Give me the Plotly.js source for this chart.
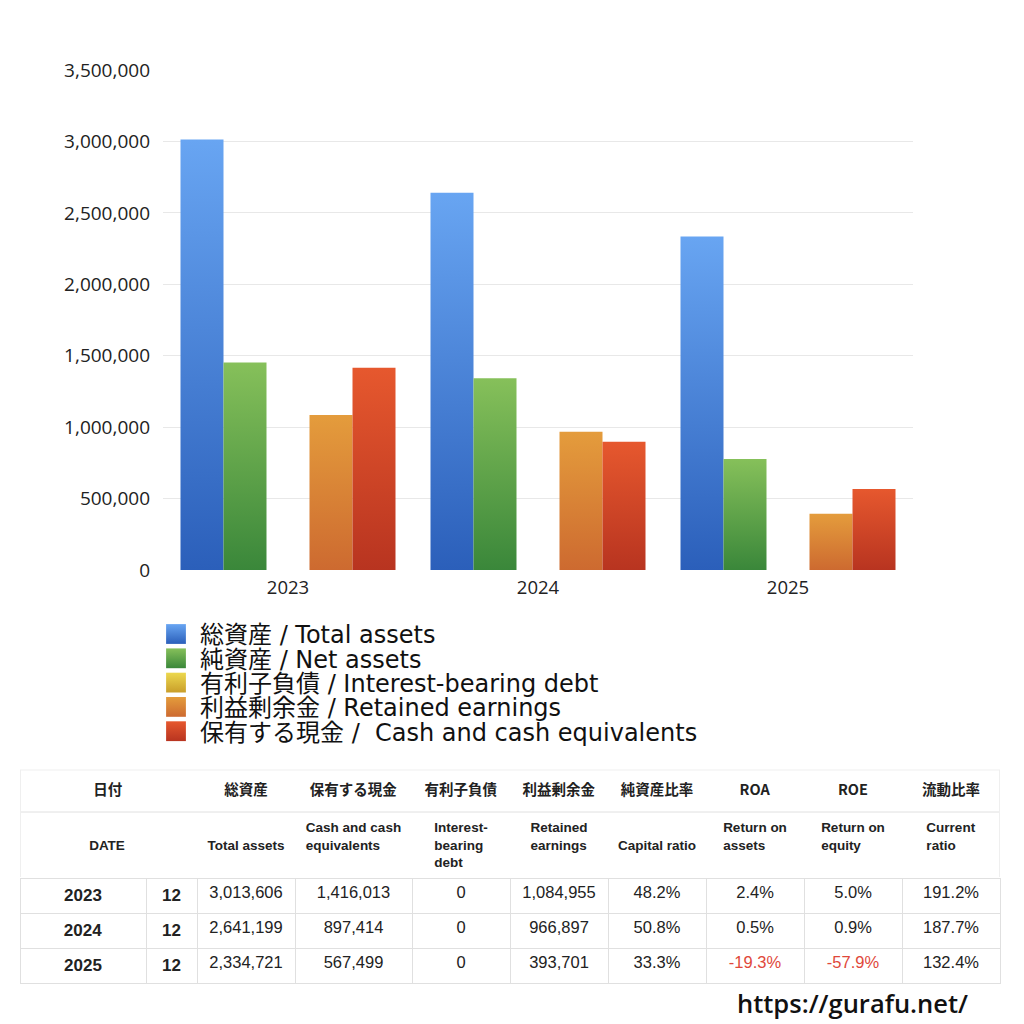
<!DOCTYPE html>
<html>
<head>
<meta charset="utf-8">
<script src="https://cdn.plot.ly/plotly-3.0.1.min.js"></script>
<style>
html,body{margin:0;padding:0;background:#fff;}
#chart{width:1024px;height:1024px;}
</style>
</head>
<body>
<div id="chart"></div>
<script>
// ---- data ----
const years = ['2023', '2024', '2025'];
const months = ['12', '12', '12'];
const totalAssets = [3013606, 2641199, 2334721];
const netAssets = [1452000, 1342000, 777000];
const interestDebt = [0, 0, 0];
const retainedEarnings = [1084955, 966897, 393701];
const cashEquiv = [1416013, 897414, 567499];
const capitalRatio = ['48.2%', '50.8%', '33.3%'];
const roa = ['2.4%', '0.5%', '-19.3%'];
const roe = ['5.0%', '0.9%', '-57.9%'];
const currentRatio = ['191.2%', '187.7%', '132.4%'];

const seriesNames = [
  '総資産 / Total assets',
  '純資産 / Net assets',
  '有利子負債 / Interest-bearing debt',
  '利益剰余金 / Retained earnings',
  '保有する現金 /  Cash and cash equivalents'
];
const seriesValues = [totalAssets, netAssets, interestDebt, retainedEarnings, cashEquiv];
const seriesColors = ['#4a86dc', '#5ea648', '#dcbc3c', '#dc8438', '#d4482a'];
const gradStops = [
  ['#68a5f2', '#2b5fba'],
  ['#86c05a', '#3a873a'],
  ['#ecd84e', '#c99e2a'],
  ['#e49c3c', '#cd6a30'],
  ['#e6582e', '#b83420']
];

const headerJa = ['日付', '', '総資産', '保有する現金', '有利子負債', '利益剰余金', '純資産比率', 'ROA', 'ROE', '流動比率'];
const headerEn = ['\u00A0<br>DATE', '', '\u00A0<br>Total assets', 'Cash and cash<br>equivalents', 'Interest-<br>bearing<br>debt', 'Retained<br>earnings', '\u00A0<br>Capital ratio', 'Return on<br>assets', 'Return on<br>equity', 'Current<br>ratio'];

const FONT = '"Open Sans", "Noto Sans CJK JP", sans-serif';
const FONT_LEG = '"DejaVu Sans", "Noto Sans CJK JP", sans-serif';
const FONT_JA = '"Noto Sans CJK JP", "Open Sans", sans-serif';
const FONT_TB = '"Liberation Sans", "Noto Sans CJK JP", sans-serif';
const fmt = v => v.toLocaleString('en-US');

// ---- bar traces ----
const traces = seriesNames.map((n, i) => ({
  type: 'bar',
  name: n,
  x: years,
  y: seriesValues[i],
  marker: {color: seriesColors[i], line: {width: 0}},
  xaxis: 'x', yaxis: 'y',
  hoverinfo: 'skip'
}));

// ---- table ----
const pad = '\u3000\u3000\u3000\u00A0\u00A0';
const dataCols = [
  years.map(y => '<b>' + y + '</b>'),
  months.map(m => '<b>' + m + '</b>'),
  totalAssets.map(fmt),
  cashEquiv.map(fmt),
  interestDebt.map(fmt),
  retainedEarnings.map(fmt),
  capitalRatio,
  roa,
  roe,
  currentRatio
];
const cellValues = dataCols.map((col, c) => {
  let en = headerEn[c];
  if (c === 0) en = en.replace('DATE', pad + 'DATE');
  return ['<b>' + en + '</b>'].concat(col);
});
const headerValues = headerJa.map((h, c) => '<b>' + (c === 0 ? pad + h : h) + '</b>');

const neg = s => typeof s === 'string' && s.trim().startsWith('-');
const cellFontColor = dataCols.map((col, c) => ['#222'].concat(col.map(v => (c === 7 || c === 8) && neg(v) ? '#e0483a' : '#222')));
const cellFontSize = dataCols.map((col, c) => [13.5].concat(col.map(() => (c <= 1 ? 17 : 16.5))));
const LC = '#e0e0e0';
const cellLineColor = dataCols.map((col, c) => ['#ffffff'].concat(col.map(() => LC)));

const tableTop = 770, tableBottom = 1000, headerH = 42, headerBlockBottom = 877;
traces.push({
  type: 'table',
  domain: {x: [20 / 1024, 1000 / 1024], y: [1 - tableBottom / 1024, 1 - tableTop / 1024]},
  columnwidth: [126, 51, 98, 117, 98, 98, 98, 98, 98, 98],
  header: {
    values: headerValues,
    align: 'center',
    height: headerH,
    line: {color: '#ffffff', width: 1},
    fill: {color: '#ffffff'},
    font: {family: FONT_JA, size: 14.5, color: '#222'}
  },
  cells: {
    values: cellValues,
    align: 'center',
    height: 35,
    line: {color: cellLineColor, width: 1},
    fill: {color: '#ffffff'},
    font: {family: FONT_TB, size: cellFontSize, color: cellFontColor}
  }
});

const layout = {
  width: 1024,
  height: 1024,
  margin: {l: 0, r: 0, t: 0, b: 0},
  paper_bgcolor: '#ffffff',
  plot_bgcolor: '#ffffff',
  font: {family: FONT, color: '#222'},
  barmode: 'group',
  bargap: 0.14,
  bargroupgap: 0,
  xaxis: {
    domain: [163 / 1024, 913 / 1024],
    anchor: 'y',
    type: 'category',
    showgrid: false,
    zeroline: false,
    showline: false,
    ticks: '',
    ticklabelstandoff: 4,
    tickfont: {family: FONT, size: 18.5, color: '#222'}
  },
  yaxis: {
    domain: [1 - 570 / 1024, 1 - 70 / 1024],
    anchor: 'x',
    range: [0, 3500000],
    dtick: 500000,
    tickformat: ',d',
    showgrid: true,
    gridcolor: '#e8e8e8',
    zeroline: false,
    showline: false,
    ticks: '',
    ticklabelstandoff: 12,
    tickfont: {family: FONT, size: 19, color: '#222'}
  },
  showlegend: true,
  legend: {
    x: 152 / 1024,
    y: 1 - 620 / 1024,
    xanchor: 'left',
    yanchor: 'top',
    orientation: 'v',
    itemwidth: 38,
    bgcolor: 'rgba(0,0,0,0)',
    font: {family: FONT_LEG, size: 24, color: '#111'},
    traceorder: 'normal'
  },
  shapes: [
    {type: 'line', xref: 'paper', yref: 'paper', x0: 20 / 1024, x1: 1000 / 1024,
     y0: 1 - (tableTop + headerH) / 1024, y1: 1 - (tableTop + headerH) / 1024,
     line: {color: LC, width: 1}},
    {type: 'line', xref: 'paper', yref: 'paper', x0: 20 / 1024, x1: 1000 / 1024,
     y0: 1 - tableTop / 1024, y1: 1 - tableTop / 1024,
     line: {color: '#efefef', width: 1}},
    {type: 'line', xref: 'paper', yref: 'paper', x0: 20.5 / 1024, x1: 20.5 / 1024,
     y0: 1 - tableTop / 1024, y1: 1 - headerBlockBottom / 1024,
     line: {color: '#efefef', width: 1}},
    {type: 'line', xref: 'paper', yref: 'paper', x0: 999.5 / 1024, x1: 999.5 / 1024,
     y0: 1 - tableTop / 1024, y1: 1 - headerBlockBottom / 1024,
     line: {color: '#efefef', width: 1}}
  ],
  annotations: [{
    xref: 'paper', yref: 'paper',
    x: 970 / 1024, y: 1 - 1003 / 1024,
    xanchor: 'right', yanchor: 'middle',
    text: 'https://gurafu.net/',
    showarrow: false,
    font: {family: FONT, size: 25.5, color: '#111', weight: 600}
  }]
};

const gd = document.getElementById('chart');
Plotly.newPlot(gd, traces, layout, {staticPlot: true, displayModeBar: false}).then(() => {
  const svg = gd.querySelector('svg.main-svg');
  const NS = 'http://www.w3.org/2000/svg';
  let defs = svg.querySelector('defs');
  if (!defs) { defs = document.createElementNS(NS, 'defs'); svg.insertBefore(defs, svg.firstChild); }
  gradStops.forEach((g, i) => {
    const lg = document.createElementNS(NS, 'linearGradient');
    lg.setAttribute('id', 'barGrad' + i);
    lg.setAttribute('x1', '0'); lg.setAttribute('y1', '0');
    lg.setAttribute('x2', '0'); lg.setAttribute('y2', '1');
    [[0, g[0]], [1, g[1]]].forEach(([o, c]) => {
      const st = document.createElementNS(NS, 'stop');
      st.setAttribute('offset', o); st.setAttribute('stop-color', c);
      lg.appendChild(st);
    });
    defs.appendChild(lg);
  });
  gd.querySelectorAll('.barlayer .trace.bars').forEach((tr, i) => {
    tr.querySelectorAll('path').forEach(p => { p.style.fill = 'url(#barGrad' + i + ')'; });
  });
  gd.querySelectorAll('.legend .traces').forEach((t, i) => {
    t.setAttribute('transform', 'translate(0,' + (14 + i * 24.3) + ')');
    t.querySelectorAll('.legendpoints path').forEach(p => {
      p.style.fill = 'url(#barGrad' + i + ')';
      const tf = p.getAttribute('transform') || '';
      p.setAttribute('transform', tf + ' scale(1.65)');
    });
  });
});
</script>
</body>
</html>
